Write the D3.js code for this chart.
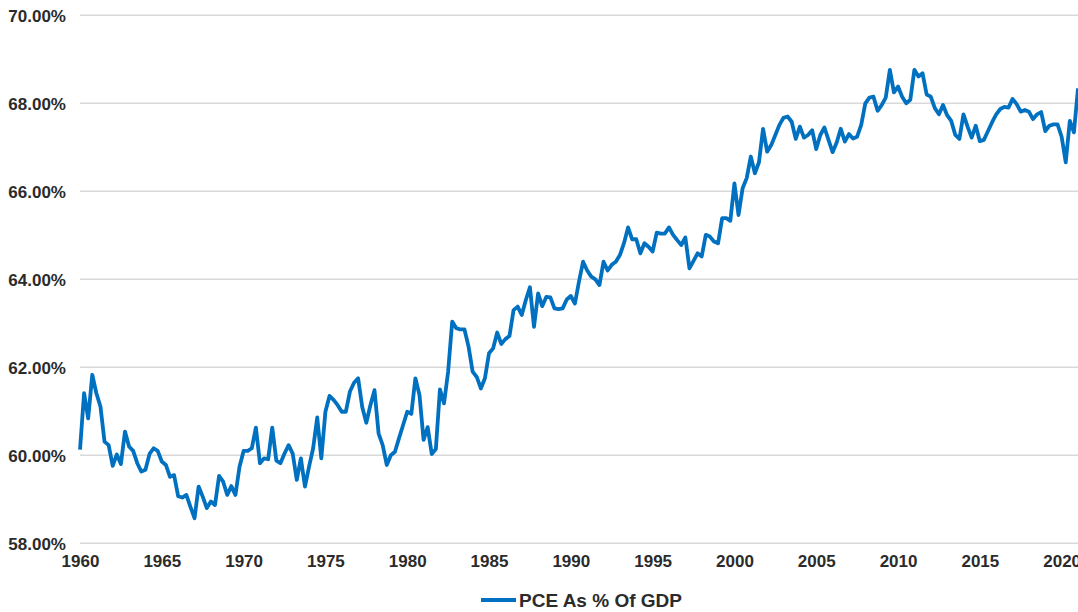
<!DOCTYPE html>
<html>
<head>
<meta charset="utf-8">
<script src="https://cdn.jsdelivr.net/npm/d3@7/dist/d3.min.js"></script>
<style>
    body { margin: 0; background: #fff; }
    .chart text { font-family: "Liberation Sans", Arial, sans-serif; font-weight: bold; fill: #2b2b2b; }
    .grid line { stroke: #d9d9d9; stroke-width: 1.5; }
    .line { fill: none; stroke: #0070c0; stroke-width: 3.8; stroke-linejoin: round; }
</style>
</head>
<body>
<svg class="chart" width="1078" height="612"></svg>
<script>

// quarterly PCE as % of GDP, 1960Q1 ...
var pce1960s = [
    60.13, 61.41, 60.84, 61.83, 61.41, 61.11, 60.31, 60.23, 59.76, 60.02,
    59.80, 60.54, 60.20, 60.10, 59.82, 59.63, 59.67, 60.03, 60.16, 60.10,
    59.86, 59.78, 59.51, 59.55, 59.07, 59.04, 59.10, 58.83, 58.57, 59.29,
    59.06, 58.80, 58.95, 58.87, 59.53, 59.40, 59.10, 59.30, 59.10, 59.74
];
var pce1970s = [
    60.10, 60.10, 60.16, 60.63, 59.82, 59.93, 59.91, 60.63, 59.88, 59.82,
    60.04, 60.23, 60.04, 59.44, 59.93, 59.29, 59.74, 60.16, 60.86, 59.93,
    60.99, 61.35, 61.26, 61.14, 60.99, 60.99, 61.45, 61.65, 61.75, 61.10,
    60.74, 61.14, 61.48, 60.50, 60.23, 59.78, 60.00, 60.08, 60.39, 60.69
];
var pce1980s = [
    60.99, 60.94, 61.75, 61.37, 60.35, 60.64, 60.03, 60.14, 61.50, 61.18,
    61.90, 63.04, 62.89, 62.86, 62.86, 62.47, 61.90, 61.78, 61.52, 61.75,
    62.32, 62.43, 62.79, 62.53, 62.64, 62.71, 63.30, 63.38, 63.19, 63.53,
    63.82, 62.92, 63.68, 63.39, 63.60, 63.59, 63.34, 63.32, 63.34, 63.54
];
var pce1990s = [
    63.62, 63.45, 63.95, 64.40, 64.20, 64.06, 64.00, 63.87, 64.40, 64.20,
    64.33, 64.40, 64.55, 64.82, 65.18, 64.91, 64.91, 64.59, 64.82, 64.74,
    64.63, 65.06, 65.04, 65.04, 65.18, 65.01, 64.89, 64.78, 64.95, 64.25,
    64.42, 64.59, 64.52, 65.01, 64.97, 64.86, 64.82, 65.39, 65.39, 65.33
];
var pce2000s = [
    66.18, 65.46, 66.07, 66.30, 66.79, 66.41, 66.66, 67.42, 66.90, 67.05,
    67.28, 67.51, 67.67, 67.70, 67.58, 67.19, 67.47, 67.22, 67.28, 67.39,
    66.96, 67.28, 67.45, 67.17, 66.89, 67.11, 67.42, 67.13, 67.30, 67.20,
    67.24, 67.51, 68.00, 68.13, 68.15, 67.83, 67.96, 68.13, 68.76, 68.25
];
var pce2010s = [
    68.38, 68.15, 68.00, 68.08, 68.76, 68.61, 68.68, 68.20, 68.15, 67.89,
    67.75, 67.96, 67.73, 67.60, 67.28, 67.19, 67.75, 67.47, 67.22, 67.49,
    67.14, 67.17, 67.37, 67.57, 67.75, 67.87, 67.92, 67.90, 68.10, 67.98,
    67.81, 67.85, 67.81, 67.64, 67.75, 67.80, 67.37, 67.49, 67.52, 67.52
];
var pce2020s = [67.24, 66.66, 67.60, 67.34, 68.34];

var startYear = 1960;
var yearTicks = [1960, 1965, 1970, 1975, 1980, 1985, 1990, 1995, 2000, 2005, 2010, 2015, 2020];
var pctTicks = [58, 60, 62, 64, 66, 68, 70];
var seriesName = 'PCE As % Of GDP';

var values = [].concat(pce1960s, pce1970s, pce1980s, pce1990s, pce2000s, pce2010s, pce2020s);
var points = values.map((v, i) => ({t: startYear + i / 4, v: v}));

var svg = d3.select('svg.chart');

var x = d3.scaleLinear()
    .domain([startYear, startYear + (values.length - 1) / 4])
    .range([80, 1078]);

var y = d3.scaleLinear()
    .domain([58, 70])
    .range([543.3, 15.3]);

// horizontal gridlines
svg.append('g')
    .classed('grid', true)
    .selectAll('line')
    .data(pctTicks)
    .enter()
    .append('line')
    .attr('x1', 80)
    .attr('x2', 1078)
    .attr('y1', d => y(d))
    .attr('y2', d => y(d));

var yAxis = d3.axisLeft(y)
    .tickValues(pctTicks)
    .tickSize(0)
    .tickPadding(0)
    .tickFormat(d => d.toFixed(2) + '%');

var gY = svg.append('g')
    .attr('transform', 'translate(66,0)')
    .call(yAxis);

gY.select('.domain').remove();
gY.selectAll('text')
    .attr('font-size', 17)
    .attr('dy', '0.35em');

var xAxis = d3.axisBottom(x)
    .tickValues(yearTicks)
    .tickSize(0)
    .tickPadding(0)
    .tickFormat(d3.format('d'));

var gX = svg.append('g')
    .attr('transform', 'translate(0,555)')
    .call(xAxis);

gX.select('.domain').remove();
gX.selectAll('text')
    .attr('font-size', 17)
    .attr('dy', '0.71em')
    .attr('y', 0);

var valueline = d3.line()
    .x(d => x(d.t))
    .y(d => y(d.v));

svg.append('path')
    .datum(points)
    .classed('line', true)
    .attr('d', valueline);

// legend
var legend = svg.append('g')
    .attr('transform', 'translate(481,600)');

legend.append('line')
    .attr('x1', 0)
    .attr('x2', 35)
    .attr('stroke', '#0070c0')
    .attr('stroke-width', 4);

legend.append('text')
    .attr('x', 38)
    .attr('dy', '0.35em')
    .attr('font-size', 19)
    .text(seriesName);

</script>
</body>
</html>
